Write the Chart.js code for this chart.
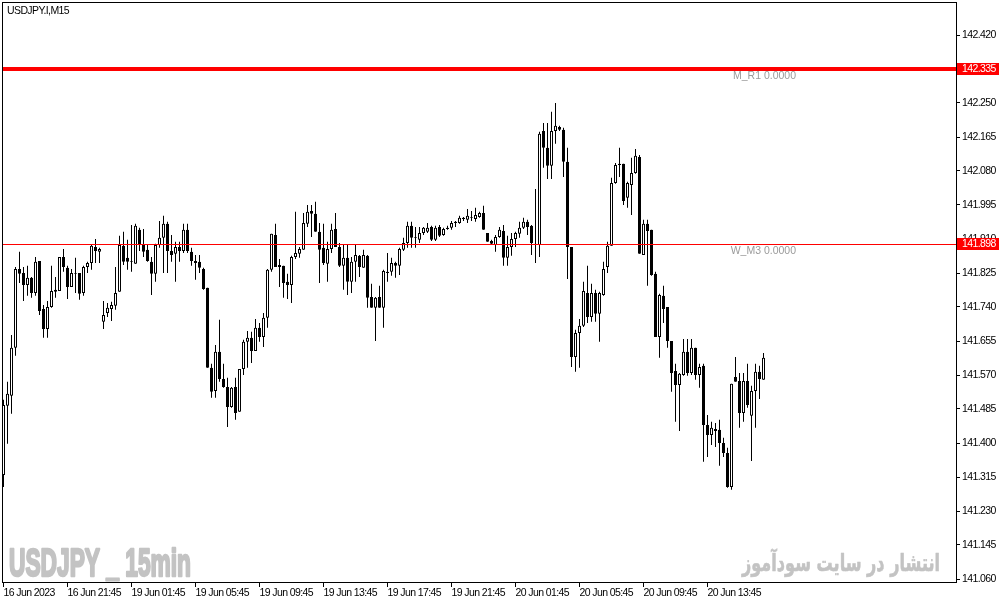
<!DOCTYPE html>
<html>
<head>
<meta charset="utf-8">
<title>USDJPY.I,M15</title>
<script src="https://cdn.jsdelivr.net/npm/chart.js@4.4.1/dist/chart.umd.min.js"></script>
<style>
  html, body { margin: 0; padding: 0; background: #ffffff; }
  #wrap { position: relative; width: 1002px; height: 604px; }
</style>
</head>
<body>
<div id="wrap"><canvas id="priceChart"></canvas></div>
<script>
// USDJPY.I M15 candles, bar 0 = 16 Jun 2023 17:45
const opens = [
  141.320, 141.493, 141.518, 141.638, 141.835, 141.825, 141.795, 141.813, 141.775, 141.855,
  141.735, 141.685, 141.740, 141.778, 141.780, 141.865, 141.838, 141.790, 141.825, 141.825,
  141.775, 141.840, 141.850, 141.890, 141.878, 141.703, 141.725, 141.735, 141.743, 141.778,
  141.893, 141.863, 141.853, 141.848, 141.933, 141.895, 141.883, 141.853, 141.823, 141.895,
  141.913, 141.948, 141.880, 141.873, 141.890, 141.880, 141.933, 141.878, 141.855, 141.853,
  141.835, 141.788, 141.588, 141.530, 141.628, 141.560, 141.540, 141.490, 141.540, 141.478,
  141.585, 141.653, 141.663, 141.630, 141.688, 141.665, 141.713, 141.833, 141.920, 141.840,
  141.843, 141.803, 141.795, 141.865, 141.873, 141.883, 141.948, 141.980, 141.973, 141.928,
  141.888, 141.848, 141.885, 141.935, 141.890, 141.843, 141.863, 141.803, 141.853, 141.868,
  141.838, 141.868, 141.765, 141.738, 141.765, 141.738, 141.825, 141.828, 141.850, 141.843,
  141.883, 141.900, 141.943, 141.913, 141.908, 141.925, 141.928, 141.940, 141.908, 141.940,
  141.920, 141.935, 141.938, 141.950, 141.950, 141.963, 141.958, 141.963, 141.960, 141.965,
  141.975, 141.925, 141.905, 141.895, 141.915, 141.930, 141.863, 141.890, 141.910, 141.923,
  141.938, 141.953, 141.943, 141.895, 141.895, 142.180, 142.138, 142.093, 142.180, 142.190,
  142.183, 142.103, 141.890, 141.615, 141.675, 141.693, 141.775, 141.715, 141.775, 141.723,
  141.770, 141.840, 141.893, 142.050, 142.095, 142.098, 142.013, 142.045, 142.075, 142.115,
  141.870, 141.948, 141.933, 141.823, 141.665, 141.768, 141.740, 141.655, 141.580, 141.545,
  141.570, 141.628, 141.575, 141.638, 141.570, 141.593, 141.445, 141.420, 141.435, 141.433,
  141.400, 141.375, 141.290, 141.565, 141.555, 141.475, 141.555, 141.468, 141.530, 141.578,
  141.558
];
const highs = [
  141.508, 141.553, 141.670, 141.840, 141.878, 141.840, 141.843, 141.815, 141.865, 141.855,
  141.745, 141.755, 141.843, 141.815, 141.865, 141.885, 141.843, 141.835, 141.863, 141.825,
  141.843, 141.853, 141.895, 141.910, 141.888, 141.755, 141.750, 141.753, 141.840, 141.918,
  141.928, 141.908, 141.945, 141.948, 141.938, 141.935, 141.895, 141.865, 141.898, 141.955,
  141.968, 141.953, 141.920, 141.903, 141.903, 141.948, 141.948, 141.888, 141.870, 141.870,
  141.838, 141.788, 141.598, 141.645, 141.708, 141.598, 141.563, 141.540, 141.563, 141.585,
  141.658, 141.680, 141.678, 141.710, 141.700, 141.725, 141.835, 141.923, 141.948, 141.860,
  141.843, 141.823, 141.868, 141.978, 141.890, 141.975, 141.995, 141.995, 142.003, 141.950,
  141.948, 141.903, 141.948, 141.975, 141.900, 141.895, 141.895, 141.865, 141.895, 141.870,
  141.883, 141.870, 141.798, 141.765, 141.793, 141.833, 141.875, 141.863, 141.853, 141.888,
  141.913, 141.953, 141.953, 141.940, 141.940, 141.940, 141.950, 141.943, 141.943, 141.945,
  141.938, 141.943, 141.955, 141.955, 141.968, 141.965, 141.985, 141.980, 141.988, 141.978,
  141.993, 141.925, 141.908, 141.920, 141.940, 141.945, 141.918, 141.925, 141.928, 141.953,
  141.963, 141.958, 141.945, 142.035, 142.178, 142.200, 142.200, 142.228, 142.250, 142.193,
  142.188, 142.138, 141.890, 141.683, 141.710, 141.803, 141.843, 141.798, 141.783, 141.778,
  141.853, 141.903, 142.063, 142.100, 142.138, 142.098, 142.053, 142.113, 142.135, 142.120,
  141.958, 141.958, 141.933, 141.828, 141.773, 141.793, 141.740, 141.655, 141.598, 141.575,
  141.660, 141.660, 141.660, 141.638, 141.598, 141.598, 141.470, 141.453, 141.450, 141.458,
  141.413, 141.388, 141.548, 141.615, 141.575, 141.575, 141.598, 141.543, 141.598, 141.593,
  141.625
];
const lows = [
  141.290, 141.398, 141.473, 141.618, 141.800, 141.755, 141.768, 141.763, 141.768, 141.720,
  141.663, 141.663, 141.738, 141.763, 141.780, 141.828, 141.760, 141.790, 141.775, 141.758,
  141.768, 141.825, 141.833, 141.850, 141.850, 141.685, 141.715, 141.705, 141.733, 141.778,
  141.845, 141.833, 141.828, 141.848, 141.880, 141.865, 141.853, 141.770, 141.803, 141.888,
  141.825, 141.825, 141.853, 141.803, 141.853, 141.875, 141.875, 141.843, 141.808, 141.825,
  141.783, 141.588, 141.513, 141.513, 141.553, 141.538, 141.440, 141.488, 141.458, 141.478,
  141.570, 141.588, 141.600, 141.630, 141.653, 141.640, 141.688, 141.828, 141.840, 141.790,
  141.763, 141.760, 141.750, 141.860, 141.863, 141.883, 141.940, 141.915, 141.928, 141.800,
  141.845, 141.803, 141.875, 141.890, 141.840, 141.783, 141.770, 141.775, 141.803, 141.815,
  141.838, 141.738, 141.738, 141.655, 141.738, 141.688, 141.803, 141.818, 141.813, 141.820,
  141.880, 141.888, 141.888, 141.888, 141.900, 141.920, 141.925, 141.905, 141.905, 141.915,
  141.918, 141.933, 141.933, 141.940, 141.948, 141.955, 141.950, 141.955, 141.953, 141.963,
  141.933, 141.903, 141.895, 141.878, 141.913, 141.843, 141.843, 141.868, 141.890, 141.913,
  141.935, 141.920, 141.870, 141.850, 141.865, 142.088, 142.060, 142.060, 142.148, 142.180,
  142.065, 141.810, 141.590, 141.578, 141.588, 141.690, 141.700, 141.703, 141.703, 141.653,
  141.768, 141.825, 141.893, 142.048, 142.065, 141.995, 141.988, 141.970, 142.073, 141.873,
  141.870, 141.793, 141.818, 141.665, 141.613, 141.700, 141.638, 141.528, 141.453, 141.430,
  141.568, 141.568, 141.570, 141.558, 141.538, 141.353, 141.365, 141.395, 141.390, 141.343,
  141.365, 141.288, 141.283, 141.553, 141.438, 141.453, 141.488, 141.355, 141.438, 141.510,
  141.558
];
const closes = [
  141.495, 141.523, 141.638, 141.835, 141.823, 141.795, 141.813, 141.775, 141.853, 141.730,
  141.685, 141.740, 141.780, 141.783, 141.865, 141.840, 141.790, 141.825, 141.823, 141.773,
  141.840, 141.850, 141.893, 141.880, 141.885, 141.720, 141.738, 141.745, 141.775, 141.895,
  141.853, 141.853, 141.855, 141.943, 141.895, 141.878, 141.855, 141.823, 141.895, 141.913,
  141.948, 141.880, 141.870, 141.890, 141.880, 141.933, 141.880, 141.855, 141.850, 141.838,
  141.785, 141.588, 141.528, 141.628, 141.560, 141.540, 141.490, 141.538, 141.475, 141.585,
  141.653, 141.663, 141.630, 141.688, 141.665, 141.713, 141.833, 141.923, 141.840, 141.845,
  141.800, 141.795, 141.865, 141.875, 141.885, 141.950, 141.978, 141.973, 141.928, 141.883,
  141.850, 141.885, 141.933, 141.890, 141.843, 141.863, 141.803, 141.853, 141.870, 141.840,
  141.870, 141.763, 141.738, 141.763, 141.738, 141.830, 141.828, 141.850, 141.843, 141.885,
  141.900, 141.943, 141.913, 141.915, 141.925, 141.938, 141.938, 141.908, 141.938, 141.918,
  141.935, 141.938, 141.950, 141.953, 141.963, 141.960, 141.968, 141.965, 141.970, 141.975,
  141.933, 141.903, 141.898, 141.915, 141.933, 141.863, 141.890, 141.910, 141.925, 141.938,
  141.953, 141.940, 141.900, 141.898, 142.173, 142.138, 142.093, 142.180, 142.193, 142.183,
  142.103, 141.890, 141.615, 141.675, 141.693, 141.780, 141.715, 141.775, 141.723, 141.775,
  141.835, 141.893, 142.050, 142.095, 142.098, 142.005, 142.050, 142.075, 142.118, 141.873,
  141.948, 141.930, 141.820, 141.665, 141.770, 141.735, 141.655, 141.575, 141.545, 141.573,
  141.628, 141.575, 141.638, 141.570, 141.590, 141.445, 141.420, 141.438, 141.430, 141.400,
  141.375, 141.290, 141.548, 141.553, 141.475, 141.555, 141.495, 141.530, 141.578, 141.560,
  141.613
];

// Axis ticks
const yTickLabels = [
  "142.420", "142.335", "142.250", "142.165", "142.080", "141.995", "141.910", "141.825", "141.740",
  "141.655", "141.570", "141.485", "141.400", "141.315", "141.230", "141.145", "141.060"
];
const xTickBars = [0, 16, 32, 48, 64, 80, 96, 112, 128, 144, 160, 176];
const xTickLabels = [
  "16 Jun 2023", "16 Jun 21:45", "19 Jun 01:45", "19 Jun 05:45", "19 Jun 09:45", "19 Jun 13:45",
  "19 Jun 17:45", "19 Jun 21:45", "20 Jun 01:45", "20 Jun 05:45", "20 Jun 09:45", "20 Jun 13:45"
];

// Horizontal levels
const levelValues = [142.335, 141.898];
const levelLabels = ["142.335", "141.898"];
const levelNames = ["M_R1 0.0000", "W_M3 0.0000"];
const levelThickness = [4, 1];

const chartTitle = "USDJPY.I,M15";
const watermarkLeft = "USDJPY _ 15min";
const watermarkRight = "انتشار در سایت سودآموز";

const axisFamily = '"Liberation Sans", Arial, sans-serif';
const axisSize = 10.5;
const axisFont = axisSize + "px " + axisFamily;

// Draw text squeezed/stretched to a given width
function drawFitted(ctx, text, font, x, y, width, align, color, weight) {
  ctx.save();
  ctx.font = font;
  ctx.fillStyle = color;
  ctx.strokeStyle = color;
  ctx.lineJoin = "round";
  ctx.textAlign = "left";
  ctx.textBaseline = "alphabetic";
  const w = ctx.measureText(text).width;
  const left = align === "right" ? x - width : x;
  ctx.translate(left, y);
  ctx.scale(width / w, 1);
  ctx.fillText(text, 0, 0);
  if (weight) {
    ctx.lineWidth = weight;
    ctx.strokeText(text, 0, 0);
  }
  ctx.restore();
}

const chartDecor = {
  id: "chartDecor",
  beforeDraw(chart) {
    // tighter text like the terminal font
    chart.ctx.letterSpacing = "-0.6px";
  },
  beforeDatasetsDraw(chart) {
    const ctx = chart.ctx;
    ctx.save();
    ctx.letterSpacing = "0px";
    drawFitted(ctx, watermarkLeft, 'bold 38px "Liberation Sans", sans-serif',
      9, 576, 182, "left", "#c3c3c3", 2.5);
    drawFitted(ctx, watermarkRight, 'bold 24px "DejaVu Sans", sans-serif',
      940, 571, 198, "right", "#c3c3c3", 0.6);
    ctx.restore();
  },
  afterDatasetsDraw(chart) {
    const ctx = chart.ctx;
    const a = chart.chartArea;
    const yScale = chart.scales.y;
    ctx.save();
    levelValues.forEach((v, i) => {
      const py = Math.round(yScale.getPixelForValue(v));
      const t = levelThickness[i];
      ctx.fillStyle = "#ff0000";
      ctx.fillRect(a.left, py - Math.floor(t / 2), a.right - a.left, t);
      ctx.font = axisFont;
      ctx.letterSpacing = "0px";
      ctx.fillStyle = "#9a9a9a";
      ctx.textAlign = "right";
      ctx.textBaseline = "middle";
      ctx.fillText(levelNames[i], 796, py + 7);
    });
    ctx.restore();
  },
  afterDraw(chart) {
    const ctx = chart.ctx;
    const a = chart.chartArea;
    const yScale = chart.scales.y;
    ctx.save();
    // frame
    ctx.strokeStyle = "#000000";
    ctx.lineWidth = 1;
    ctx.strokeRect(a.left + 0.5, a.top + 0.5, a.right - a.left, a.bottom - a.top);
    // title
    ctx.font = axisFont;
    ctx.fillStyle = "#000000";
    ctx.textAlign = "left";
    ctx.textBaseline = "middle";
    ctx.fillText(chartTitle, 7, 11);
    // level price boxes on the axis
    levelValues.forEach((v, i) => {
      const py = Math.round(yScale.getPixelForValue(v));
      ctx.fillStyle = "#ff0000";
      ctx.fillRect(a.right + 1, py - 6, 42, 12);
      ctx.fillStyle = "#ffffff";
      ctx.fillText(levelLabels[i], a.right + 6, py);
    });
    ctx.restore();
  }
};

const barIndex = opens.map((_, i) => i);
const bodyData = barIndex.map(i => ({ x: i, y: [opens[i], closes[i]] }));
const wickData = barIndex.map(i => ({ x: i, y: [lows[i], highs[i]] }));

new Chart(document.getElementById("priceChart"), {
  type: "bar",
  data: {
    datasets: [
      {
        label: "Body",
        data: bodyData,
        order: 0,
        grouped: false,
        barThickness: 3,
        borderWidth: 1,
        borderSkipped: false,
        inflateAmount: 0,
        borderColor: "#000000",
        backgroundColor: (c) => closes[c.dataIndex] >= opens[c.dataIndex] ? "#ffffff" : "#000000"
      },
      {
        label: "Wick",
        data: wickData,
        order: 1,
        grouped: false,
        barThickness: 1,
        borderWidth: 0,
        inflateAmount: 0,
        backgroundColor: "#000000"
      }
    ]
  },
  options: {
    responsive: true,
    maintainAspectRatio: false,
    animation: false,
    layout: { padding: { left: 2, top: 2, right: 0, bottom: 0 } },
    plugins: {
      legend: { display: false },
      tooltip: { enabled: false }
    },
    scales: {
      x: {
        type: "linear",
        position: "bottom",
        offset: false,
        min: -0.375,
        max: 238.125,
        afterBuildTicks: (s) => { s.ticks = xTickBars.map(v => ({ value: v })); },
        afterFit: (s) => { s.height = 22; s.paddingLeft = 0; s.paddingRight = 0; },
        ticks: {
          autoSkip: false,
          maxRotation: 0,
          align: "start",
          padding: 0,
          color: "#000000",
          font: { family: axisFamily, size: axisSize },
          callback: (v, i) => xTickLabels[i]
        },
        grid: { drawOnChartArea: false, drawTicks: true, tickLength: 5, color: "#000000", offset: false },
        border: { display: true, color: "#000000" }
      },
      y: {
        type: "linear",
        position: "right",
        min: 141.0525,
        max: 142.5025,
        afterBuildTicks: (s) => { s.ticks = yTickLabels.map(t => ({ value: parseFloat(t) })); },
        afterFit: (s) => { s.width = 46; s.paddingTop = 0; s.paddingBottom = 0; },
        ticks: {
          autoSkip: false,
          padding: 2,
          color: "#000000",
          font: { family: axisFamily, size: axisSize },
          callback: (v, i) => yTickLabels[i]
        },
        grid: { drawOnChartArea: false, drawTicks: true, tickLength: 4, color: "#000000" },
        border: { display: true, color: "#000000" }
      }
    }
  },
  plugins: [chartDecor]
});
</script>
</body>
</html>
